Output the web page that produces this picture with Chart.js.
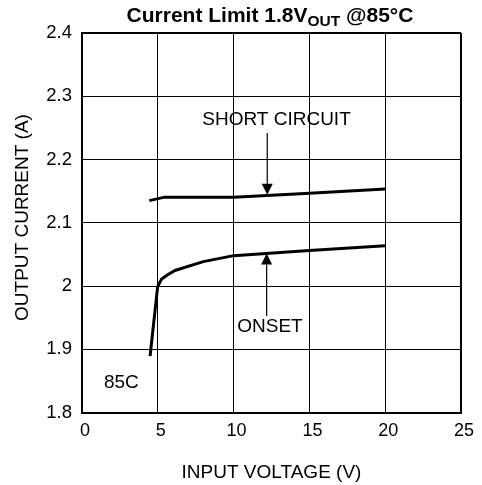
<!DOCTYPE html>
<html>
<head>
<meta charset="utf-8">
<script src="https://cdn.jsdelivr.net/npm/chart.js@4"></script>
<style>
html,body{margin:0;padding:0;background:#fff;}
#wrap{width:482px;height:485px;position:relative;}
</style>
</head>
<body>
<div id="wrap"><canvas id="c" width="482" height="485"></canvas></div>
<script>
// ---- data ----
const shortCircuitX = [4.44, 5.45, 10, 15, 20];
const shortCircuitY = [2.135, 2.1405, 2.1405, 2.1465, 2.1535];
const onsetX = [4.49, 4.99, 5.25, 5.63, 6.13, 8.0, 10, 15, 20];
const onsetY = [1.889, 1.999, 2.011, 2.0175, 2.0245, 2.0385, 2.048, 2.056, 2.0635];
const xTicks = [0, 5, 10, 15, 20, 25];
const yTicks = [1.8, 1.9, 2.0, 2.1, 2.2, 2.3, 2.4];
const yTickLabels = ['1.8', '1.9', '2', '2.1', '2.2', '2.3', '2.4'];
const titleMain = 'Current Limit 1.8V';
const titleSub = 'OUT';
const titleEnd = ' @85°C';
const xTitle = 'INPUT VOLTAGE (V)';
const yTitle = 'OUTPUT CURRENT (A)';
// annotation labels (data coordinates)
const labels = [
  {text: 'SHORT CIRCUIT', x: 12.83, y: 2.2625},
  {text: 'ONSET', x: 12.4, y: 1.9357},
  {text: '85C', x: 2.6, y: 1.8466}
];
const arrows = [
  {x: 12.22, yFrom: 2.2419, yTo: 2.1442},
  {x: 12.18, yFrom: 1.9526, yTo: 2.0515}
];

const FONT = 'Arial, "Liberation Sans", Helvetica, sans-serif';

function pts(xs, ys){ return xs.map((x,i)=>({x:x, y:ys[i]})); }

const overlay = {
  id: 'overlay',
  afterDatasetsDraw(chart){
    const ctx = chart.ctx;
    const xs = chart.scales.x, ys = chart.scales.y;
    ctx.save();
    ctx.fillStyle = '#000';
    ctx.strokeStyle = '#000';
    ctx.font = '19px ' + FONT;
    ctx.textAlign = 'center';
    ctx.textBaseline = 'middle';
    labels.forEach(l=>{
      ctx.fillText(l.text, xs.getPixelForValue(l.x), ys.getPixelForValue(l.y));
    });
    arrows.forEach(a=>{
      const px = xs.getPixelForValue(a.x);
      const p0 = ys.getPixelForValue(a.yFrom);
      const p1 = ys.getPixelForValue(a.yTo);
      const dir = p1 > p0 ? 1 : -1;
      const head = 11, hw = 5.5;
      ctx.lineWidth = 1.2;
      ctx.beginPath();
      ctx.moveTo(px, p0);
      ctx.lineTo(px, p1 - dir*head);
      ctx.stroke();
      ctx.beginPath();
      ctx.moveTo(px, p1);
      ctx.lineTo(px - hw, p1 - dir*head);
      ctx.lineTo(px + hw, p1 - dir*head);
      ctx.closePath();
      ctx.fill();
    });
    ctx.restore();
  },
  afterDraw(chart){
    const ctx = chart.ctx;
    ctx.save();
    ctx.fillStyle = '#000';
    // y axis title
    ctx.save();
    ctx.translate(23, 217.5);
    ctx.rotate(-Math.PI/2);
    ctx.font = '19px ' + FONT;
    ctx.textAlign = 'center';
    ctx.textBaseline = 'middle';
    ctx.fillText(yTitle, 0, 0);
    ctx.restore();
    // chart title with subscript
    ctx.textBaseline = 'alphabetic';
    ctx.textAlign = 'left';
    const fMain = 'bold 21px ' + FONT;
    const fSub = 'bold 15.5px ' + FONT;
    ctx.font = fMain;
    const w1 = ctx.measureText(titleMain).width;
    const w3 = ctx.measureText(titleEnd).width;
    ctx.font = fSub;
    const w2 = ctx.measureText(titleSub).width;
    const total = w1 + w2 + w3;
    let x = 270 - total/2;
    const base = 22;
    ctx.font = fMain;
    ctx.fillText(titleMain, x, base); x += w1;
    ctx.font = fSub;
    ctx.fillText(titleSub, x, base + 3.5); x += w2;
    ctx.font = fMain;
    ctx.fillText(titleEnd, x, base);
    ctx.restore();
  }
};

new Chart(document.getElementById('c'), {
  type: 'line',
  data: {
    datasets: [
      {label: 'SHORT CIRCUIT', data: pts(shortCircuitX, shortCircuitY), borderColor: '#000', borderWidth: 3, pointRadius: 0, tension: 0, fill: false},
      {label: 'ONSET', data: pts(onsetX, onsetY), borderColor: '#000', borderWidth: 3, pointRadius: 0, tension: 0, fill: false}
    ]
  },
  options: {
    responsive: false,
    animation: false,
    devicePixelRatio: 1,
    layout: {padding: {top: 33, right: 21, left: 0, bottom: 0}},
    plugins: {legend: {display: false}, tooltip: {enabled: false}, title: {display: false}},
    scales: {
      x: {
        type: 'linear', min: 0, max: 25,
        afterBuildTicks(s){ s.ticks = xTicks.map(v=>({value: v})); },
        afterFit(s){ s.height = 72.5; },
        ticks: {color: '#000', font: {family: FONT, size: 18}, padding: 8, labelOffset: 3, maxRotation: 0, autoSkip: false,
          callback: (v)=>String(v)},
        grid: {color: '#000', lineWidth: (c)=> c.tick && c.tick.value === 25 ? 2 : 1, drawTicks: false},
        border: {color: '#000', width: 2},
        title: {display: true, text: xTitle, color: '#000', font: {family: FONT, size: 19}, padding: {top: 0, bottom: 1}}
      },
      y: {
        type: 'linear', min: 1.8, max: 2.4,
        afterBuildTicks(s){ s.ticks = yTicks.map(v=>({value: v})); },
        afterFit(s){ s.width = 82; },
        ticks: {color: '#000', font: {family: FONT, size: 18.5}, padding: 10, autoSkip: false,
          callback: (v)=>{ const i = yTicks.findIndex(t=>Math.abs(t-v)<1e-9); return i>=0 ? yTickLabels[i] : ''; }},
        grid: {color: '#000', lineWidth: (c)=> c.tick && Math.abs(c.tick.value - 2.4) < 1e-9 ? 2 : 1, drawTicks: false},
        border: {color: '#000', width: 2},
        title: {display: false}
      }
    }
  },
  plugins: [overlay]
});
</script>
</body>
</html>
